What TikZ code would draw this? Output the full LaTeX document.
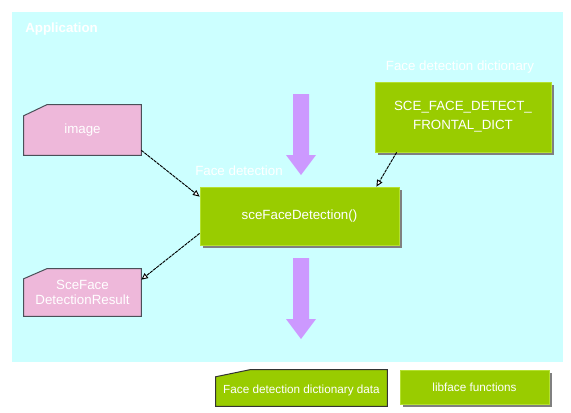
\documentclass[tikz,border=0pt]{standalone}
\usepackage{fontspec}
\setmainfont{Liberation Sans}
\usetikzlibrary{arrows.meta,calc,shadows}
\pgfdeclarelayer{bg}
\pgfdeclarelayer{shapes}
\pgfsetlayers{bg,shapes,main}
\definecolor{appcyan}{HTML}{CCFFFF}
\definecolor{libgreen}{HTML}{99CC00}
\definecolor{edgegreen}{HTML}{B4E030}
\definecolor{datapink}{HTML}{EEB8DA}
\definecolor{flowpurple}{HTML}{CC99FF}
\definecolor{shadowgray}{HTML}{808080}
\definecolor{darkedge}{HTML}{4A5058}
\tikzset{
  lbl/.style={text=white, font=\fontsize{10}{12}\selectfont, inner sep=0pt},
  funcbox/.style={rectangle, fill=libgreen, draw=edgegreen, line width=0.6pt,
    text=white, font=\fontsize{10}{12}\selectfont, align=center,
    general shadow={fill=shadowgray, shadow xshift=2.25pt, shadow yshift=-2.25pt}},
  datatext/.style={rectangle, text=white, font=\fontsize{10}{12}\selectfont, align=center, inner sep=0pt},
  datashape/.style={fill=datapink, draw=darkedge, line width=0.75pt},
  legshape/.style={fill=libgreen, draw=black!80, line width=0.75pt},
  legfont/.style={font=\fontsize{8.8}{10}\selectfont},
  conn/.style={draw=black, line width=0.7pt, dash pattern=on 2.4pt off 0.6pt,
    -{Triangle[length=5pt,width=4.5pt,fill=white]}},
  flow/.style={fill=flowpurple, draw=none}
}
\begin{document}
\begin{tikzpicture}[x=0.75pt,y=-0.75pt]
\useasboundingbox (0,0) rectangle (571,412);
\begin{pgfonlayer}{bg}
  \fill[white] (0,0) rectangle (571,412);
  \fill[appcyan] (12,12) rectangle (563,362);
\end{pgfonlayer}
\node[lbl, font=\bfseries\fontsize{10}{12}\selectfont, anchor=west] (apptitle) at (25,29) {Application};

% function boxes
\node[funcbox, minimum width=199*0.75pt, minimum height=58*0.75pt] (main) at (299.5,216) {sceFaceDetection()};
\node[funcbox, minimum width=176*0.75pt, minimum height=70*0.75pt, font=\fontsize{10}{14.25}\selectfont] (dict) at (463,117) {SCE\_FACE\_DETECT\_\\FRONTAL\_DICT};
\node[lbl, anchor=west] (mainlbl) at (195,171) {Face detection};
\node[lbl] (dictlbl) at (460,67) {Face detection dictionary};

% data boxes
\node[datatext, minimum width=117*0.75pt, minimum height=50*0.75pt] (img) at (82.5,130) {image};
\node[datatext, minimum width=117*0.75pt, minimum height=47*0.75pt, font=\fontsize{10}{11.25}\selectfont] (res) at (82.5,292.5) {SceFace\\DetectionResult};
\begin{pgfonlayer}{shapes}
  \path[datashape] ([yshift=-8.25pt]img.north west) -- ([xshift=17.25pt]img.north west) -- (img.north east) -- (img.south east) -- (img.south west) -- cycle;
  \path[datashape] ([yshift=-7.5pt]res.north west) -- ([xshift=17.25pt]res.north west) -- (res.north east) -- (res.south east) -- (res.south west) -- cycle;
\end{pgfonlayer}

% flow arrows
\path[flow] (293,94) -- (309,94) -- (309,155) -- (316,155) -- (301,175) -- (286,155) -- (293,155) -- cycle;
\path[flow] (293,258) -- (309,258) -- (309,319) -- (316,319) -- (301,339) -- (286,319) -- (293,319) -- cycle;

% connectors
\draw[conn] ([yshift=3.75pt]img.south east) -- ([yshift=-7.5pt]main.north west);
\draw[conn] ([yshift=9pt]main.south west) -- ([yshift=-8.25pt]res.north east);
\draw[conn] ([xshift=16.5pt]dict.south west) -- ([xshift=-17.25pt]main.north east);

% legend
\node[datatext, legfont, minimum width=171*0.75pt, minimum height=36*0.75pt, text depth=0pt] (legdata) at (301.5,388) {\raisebox{-1.5pt}{Face detection dictionary data}};
\begin{pgfonlayer}{shapes}
  \path[legshape] ([yshift=-5.25pt]legdata.north west) -- ([xshift=25.5pt]legdata.north west) -- (legdata.north east) -- (legdata.south east) -- (legdata.south west) -- cycle;
\end{pgfonlayer}
\node[funcbox, legfont, minimum width=149*0.75pt, minimum height=34*0.75pt] (leglib) at (474.5,387) {libface functions};
\end{tikzpicture}
\end{document}
